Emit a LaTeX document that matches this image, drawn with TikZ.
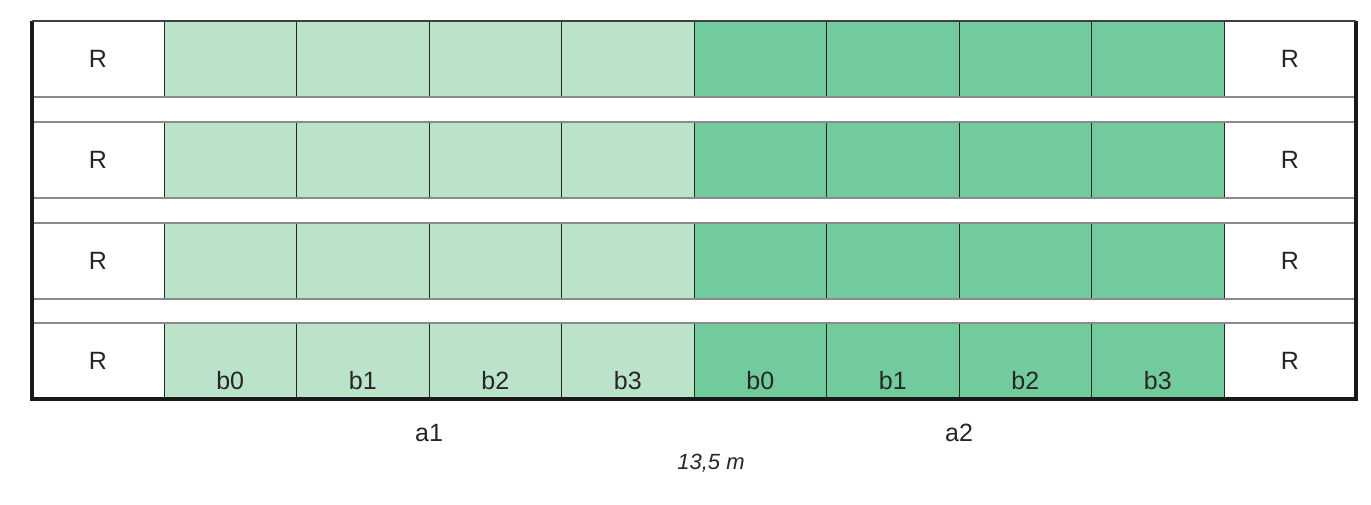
\documentclass[tikz,border=0pt]{standalone}
\usepackage{fontspec}
\setmainfont{Liberation Sans}
\definecolor{lightg}{HTML}{BBE3CA}
\definecolor{darkg}{HTML}{72CB9D}
\definecolor{sepgray}{HTML}{8A8A8A}
\begin{document}
\begin{tikzpicture}[x=0.5pt,y=-0.5pt,
  cell/.style={draw=black!85, line width=0.5pt, inner sep=0pt, outer sep=0pt, anchor=north west, minimum width=66.25pt, minimum height=38pt},
  lbl/.style={font=\fontsize{12.5}{14}\selectfont, text=black!85},
  sep/.style={draw=sepgray, line width=0.9pt},
  frame/.style={draw=black!90, line width=1.6pt}]
\useasboundingbox (0,0) rectangle (1371,504);
\foreach \i/\t in {1/21,2/122,3/223,4/323} {
  \node[cell, minimum width=66pt] (R-\i-l) at (32,\t) {};
  \node[lbl] (Rl-\i) at (98,\t+38) {R};
  \foreach \j/\xx/\c in {0/164/lightg,1/296.5/lightg,2/429/lightg,3/561.5/lightg,4/694/darkg,5/826.5/darkg,6/959/darkg,7/1091.5/darkg} {
    \node[cell, fill=\c] (c-\i-\j) at (\xx,\t) {};
  }
  \node[cell, minimum width=66pt] (R-\i-r) at (1224,\t) {};
  \node[lbl] (Rr-\i) at (1290,\t+38) {R};
  \draw[sep] (R-\i-l.north west) -- (R-\i-r.north east);
  \draw[sep] (R-\i-l.south west) -- (R-\i-r.south east);
}
\foreach \j/\b in {0/b0,1/b1,2/b2,3/b3,4/b0,5/b1,6/b2,7/b3} {
  \node[lbl, anchor=base] (bl-\j) at ([yshift=5pt]c-4-\j.south) {\b};
}
\draw[sep] (R-1-l.north west) -- (R-1-r.north east);
\draw[frame] (R-1-l.north west) -- (R-4-l.south west) -- (R-4-r.south east) -- (R-1-r.north east);
\draw[draw=black!75, line width=1.2pt] (R-1-l.north west) -- (R-1-r.north east);
\node[lbl] (a1) at (429,433) {a1};
\node[lbl] (a2) at (959,433) {a2};
\node[font=\fontsize{11}{13}\selectfont\itshape, text=black!85] (len) at (711,463) {13,5 m};
\end{tikzpicture}
\end{document}
